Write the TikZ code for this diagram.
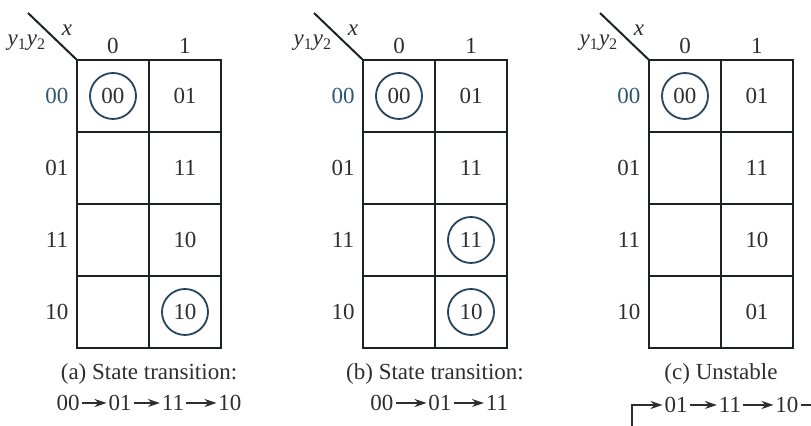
\documentclass[tikz,border=0pt]{standalone}
\usepackage{fontspec}
\setmainfont{Liberation Serif}
\usetikzlibrary{arrows.meta}
\definecolor{ink}{HTML}{1E2226}
\definecolor{txt}{HTML}{2E2E2E}
\definecolor{ringc}{HTML}{25445F}
\definecolor{labc}{HTML}{2C5872}
\begin{document}
\begin{tikzpicture}[x=0.5pt,y=-0.5pt,
  font=\fontsize{11.5}{13.5}\selectfont, text=txt,
  cellbox/.style={minimum width=36pt, minimum height=36pt, inner sep=0pt, outer sep=0pt},
  gridline/.style={draw=ink, line width=1.1pt},
  ring/.style={circle, draw=ringc, line width=0.9pt, minimum size=23pt, inner sep=0pt},
  lbl/.style={inner sep=0pt},
  stt/.style={inner sep=0.8pt},
  tarrow/.style={-{Stealth[length=6pt,width=4pt]}, line width=0.6pt, draw=txt},
  tline/.style={line width=0.6pt, draw=txt},
  diag/.style={draw=ink, line width=1pt}]
\useasboundingbox (0,0) rectangle (811,426);
\foreach \p/\L in {a/77,b/363,c/649}{
  \foreach \i in {0,1,2,3}{
    \node[cellbox] (\p-\i-0) at (\L+36, 96+72*\i) {};
    \node[cellbox] (\p-\i-1) at (\L+108, 96+72*\i) {};
  }
  \draw[gridline] (\p-0-0.north west) rectangle (\p-3-1.south east);
  \draw[gridline] (\p-0-0.north east) -- (\p-3-0.south east);
  \draw[gridline] (\p-0-0.south west) -- (\p-0-1.south east);
  \draw[gridline] (\p-1-0.south west) -- (\p-1-1.south east);
  \draw[gridline] (\p-2-0.south west) -- (\p-2-1.south east);
  \node[lbl, text=labc] (\p-r0) at (\L-20, 96) {00};
  \node[lbl] (\p-r1) at (\L-20, 168) {01};
  \node[lbl] (\p-r2) at (\L-20, 240) {11};
  \node[lbl] (\p-r3) at (\L-20, 312) {10};
  \node[lbl] (\p-h0) at (\L+36,46) {0};
  \node[lbl] (\p-h1) at (\L+108,46) {1};
  \coordinate (\p-tip) at (\L-49,13);
  \draw[diag] (\p-tip) -- (\p-0-0.north west);
  \node[lbl] (\p-x) at (\L-10,30) {\itshape x};
  \node[lbl] (\p-y) at (\L-50,43) {{\itshape y}\textsubscript{1}{\itshape y}\textsubscript{2}};
  \node[ring] (\p-c00) at (\p-0-0) {00};
  \node[lbl] (\p-t01) at (\p-0-1) {01};
  \node[lbl] (\p-t11) at (\p-1-1) {11};
}
% (a)
\node[lbl] (a-t10) at (a-2-1) {10};
\node[ring] (a-c10) at (a-3-1) {10};
% (b)
\node[ring] (b-c11) at (b-2-1) {11};
\node[ring] (b-c10) at (b-3-1) {10};
% (c)
\node[lbl] (c-t10) at (c-2-1) {10};
\node[lbl] (c-t01b) at (c-3-1) {01};
% captions
\node[lbl] (a-cap) at (149,374) {(a) State transition:};
\node[lbl] (b-cap) at (435,374) {(b) State transition:};
\node[lbl] (c-cap) at (721,374) {(c) Unstable};
% transitions (a)
\node[stt] (a-s1) at (68,403) {00};
\node[stt] (a-s2) at (120,403) {01};
\node[stt] (a-s3) at (173,403) {11};
\node[stt] (a-s4) at (230,403) {10};
\draw[tarrow] (a-s1) -- (a-s2);
\draw[tarrow] (a-s2) -- (a-s3);
\draw[tarrow] (a-s3) -- (a-s4);
% transitions (b)
\node[stt] (b-s1) at (382,403) {00};
\node[stt] (b-s2) at (440,403) {01};
\node[stt] (b-s3) at (497,403) {11};
\draw[tarrow] (b-s1) -- (b-s2);
\draw[tarrow] (b-s2) -- (b-s3);
% transitions (c)
\node[stt] (c-s1) at (676,405) {01};
\node[stt] (c-s2) at (730,405) {11};
\node[stt] (c-s3) at (787,405) {10};
\coordinate (c-start) at (632,426);
\coordinate (c-bend) at (632,405);
\coordinate (c-end) at (811,405);
\draw[tarrow] (c-start) -- (c-bend) -- (c-s1);
\draw[tarrow] (c-s1) -- (c-s2);
\draw[tarrow] (c-s2) -- (c-s3);
\draw[tline] (c-s3) -- (c-end);
\end{tikzpicture}
\end{document}
